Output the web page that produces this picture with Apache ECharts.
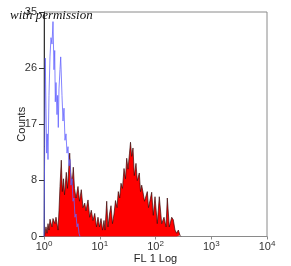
<!DOCTYPE html>
<html>
<head>
<meta charset="utf-8">
<script src="https://cdn.jsdelivr.net/npm/echarts@6/dist/echarts.min.js"></script>
<style>html,body{margin:0;padding:0;background:#fff;}#c{width:291px;height:266px;}</style>
</head>
<body>
<div id="c"></div>
<script>
// Stained sample histogram (red fill): FL 1 value, counts
const redFL = [1.021,1.042,1.086,1.132,1.180,1.229,1.281,1.335,1.392,1.450,1.511,1.575,1.641,1.711,1.783,1.858,1.936,2.043,2.130,2.238,2.332,2.512,2.639,2.890,3.012,3.178,3.354,3.525,3.750,4.072,4.333,4.668,5.007,5.372,5.668,6.155,6.601,7.052,7.568,8.119,8.745,9.301,9.898,10.53,11.20,11.92,12.42,13.33,14.06,14.96,15.91,16.93,18.02,19.16,20.39,21.51,22.80,24.06,25.59,27.23,28.96,30.44,32.12,34.17,35.61,37.42,39.48,41.66,44.69,47.16,51.22,53.82,56.55,59.68,63.50,67.53,71.29,74.90,79.66,85.48,91.30,97.96,107.7,117.0,129.2,142.1,154.3,162.8,176.8,195.3,208.6,223.7,240.1,256.4,275.0,286.6];
const redCounts = [0,0.5,1.5,0.5,2,1,2.7,2.5,1.5,2.8,3,2,3,3.2,1,4,7.8,11.9,7,9,6.5,10,7.5,13,10,8,10.8,7.5,6,7.8,5.5,7.3,4.5,5.2,4,5.7,3,4.1,2.5,3.6,1.5,3,1.5,2.8,1,2.5,1,5.5,1.5,3.5,4.8,2,3.5,5.6,4.5,7,6,8.3,7.5,10.6,9,12.2,10.5,13,14.7,12.5,13.8,9.5,11.4,8.7,9.9,7,8,6.9,5.5,5.5,7,4.5,4.2,6.9,3.3,6.2,2,6.2,2,3,1.5,6,1.5,3,2.6,1,0.5,1,0.2,0];
// Control histogram (blue line)
const blueFL = [1.0,1.029,1.055,1.086,1.118,1.146,1.180,1.229,1.281,1.335,1.392,1.450,1.511,1.556,1.595,1.641,1.711,1.761,1.805,1.858,1.936,1.993,2.103,2.192,2.284,2.380,2.481,2.586,2.695,2.808,2.927,3.050,3.178,3.313,3.452,3.598,3.750,3.908,4.072,4.244,4.423];
const blueCounts = [0,14,27.8,20,13,16,12,22,28,31,30,33.5,26,29,21,24,19,22,17,23,26,28,22,18,20,15,16,13,14,11,12,8,9,5.5,6,3,3.5,1.5,2,0.5,0];
// Axis ticks
const yTickValues = [0, 8.75, 17.5, 26.25, 35];
const yTickLabels = ['0', '8', '17', '26', '35'];
const xDecades = ['0', '1', '2', '3', '4'];

const chart = echarts.init(document.getElementById('c'), null, {renderer: 'canvas'});
const FONT = 'Liberation Sans, Arial, sans-serif';
chart.setOption({
  animation: false,
  backgroundColor: '#fff',
  grid: {left: 44, right: 24, top: 12, bottom: 29.5, show: true, borderColor: '#8a8a8a', borderWidth: 1, containLabel: false, outerBoundsMode: 'none'},
  xAxis: {
    type: 'log', logBase: 10, min: 1, max: 10000,
    name: 'FL 1 Log', nameLocation: 'middle', nameGap: 17, nameMoveOverlap: false,
    nameTextStyle: {fontFamily: FONT, fontSize: 11, color: '#222'},
    axisLine: {lineStyle: {color: '#8a8a8a', width: 1}},
    axisTick: {show: true, length: 3, lineStyle: {color: '#8a8a8a'}},
    minorTick: {show: false}, splitLine: {show: false},
    axisLabel: {
      margin: 3,
      formatter: function (v) { const e = Math.round(Math.log10(v)); return '{b|10}{s|' + xDecades[e] + '}'; },
      rich: {b: {fontFamily: FONT, fontSize: 11, color: '#333', lineHeight: 14}, s: {fontFamily: FONT, fontSize: 8, color: '#333', verticalAlign: 'top', lineHeight: 14}}
    }
  },
  yAxis: {
    type: 'value', min: 0, max: 35, interval: 8.75,
    name: 'Counts', nameLocation: 'middle', nameGap: 17, nameRotate: 90, nameMoveOverlap: false,
    nameTextStyle: {fontFamily: FONT, fontSize: 11, color: '#222'},
    axisLine: {show: true, lineStyle: {color: '#333', width: 1}},
    axisTick: {show: true, inside: false, length: 5, lineStyle: {color: '#333'}},
    splitLine: {show: false},
    axisLabel: {
      margin: 7, fontFamily: FONT, fontSize: 11, color: '#333',
      formatter: function (v) { const i = yTickValues.indexOf(v); return i >= 0 ? yTickLabels[i] : ''; }
    }
  },
  series: [
    {
      type: 'line', name: 'stained', symbol: 'none', smooth: false,
      data: redFL.map((x, i) => [x, redCounts[i]]),
      lineStyle: {color: '#3a0a0a', width: 0.7},
      areaStyle: {color: '#ff0000', opacity: 1}
    },
    {
      type: 'line', name: 'control', symbol: 'none', smooth: false,
      data: blueFL.map((x, i) => [x, blueCounts[i]]),
      lineStyle: {color: '#6464ff', width: 0.8}
    }
  ],
  graphic: [
    {type: 'text', left: 10, top: 9, z: 100, style: {text: 'with permission', font: 'italic 13px "Liberation Serif", "Times New Roman", serif', fill: '#111'}}
  ]
});
</script>
</body>
</html>
